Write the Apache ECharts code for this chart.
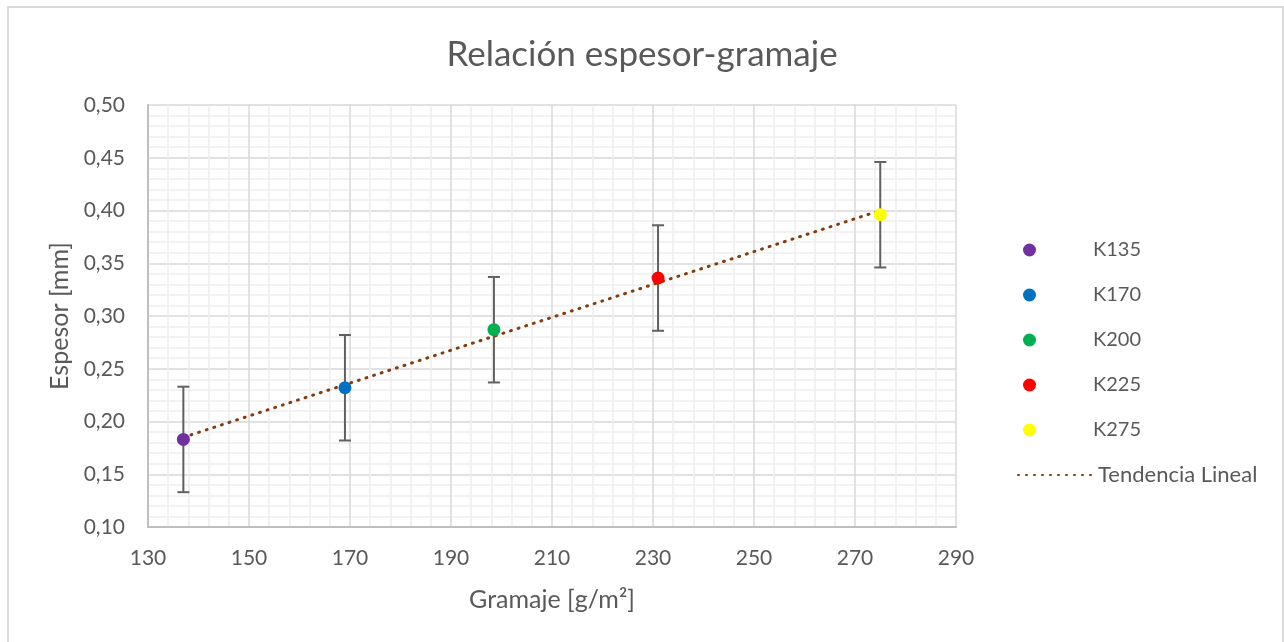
<!DOCTYPE html>
<html>
<head>
<meta charset="utf-8">
<script src="https://cdn.jsdelivr.net/npm/echarts@6/dist/echarts.min.js"></script>
<style>
  html, body { margin: 0; padding: 0; background: #fff; }
  #chart { width: 1284px; height: 642px; }
</style>
</head>
<body>
<div id="chart"></div>
<script>
// datos
const muestras = ['K135', 'K170', 'K200', 'K225', 'K275']
const gramaje = [137, 169, 198.5, 231, 275]
const espesor = [0.183, 0.232, 0.287, 0.336, 0.396]
const errores = [0.05, 0.05, 0.05, 0.05, 0.05]
const colores = ['#7030a0', '#0070c0', '#00b050', '#ff0000', '#ffff00']
const tendenciaX = [137, 275]
const tendenciaY = [0.185, 0.400]

const fuente = 'Lato'
const gris = '#595959'

const chart = echarts.init(document.getElementById('chart'))

const puntos = muestras.map(function (nombre, i) {
  return {
    name: nombre,
    type: 'scatter',
    symbol: 'circle',
    symbolSize: 13,
    z: 5,
    itemStyle: { color: colores[i], opacity: 1 },
    data: [[gramaje[i], espesor[i]]]
  }
})

const barrasError = {
  name: 'error',
  type: 'custom',
  z: 3,
  silent: true,
  data: gramaje.map(function (g, i) {
    return [g, espesor[i] - errores[i], espesor[i] + errores[i]]
  }),
  renderItem: function (params, api) {
    const bajo = api.coord([api.value(0), api.value(1)])
    const alto = api.coord([api.value(0), api.value(2)])
    const w = 6
    const estilo = { stroke: '#606060', lineWidth: 2 }
    return {
      type: 'group',
      children: [
        { type: 'line', shape: { x1: alto[0], y1: alto[1], x2: bajo[0], y2: bajo[1] }, style: estilo },
        { type: 'line', shape: { x1: alto[0] - w, y1: alto[1], x2: alto[0] + w, y2: alto[1] }, style: estilo },
        { type: 'line', shape: { x1: bajo[0] - w, y1: bajo[1], x2: bajo[0] + w, y2: bajo[1] }, style: estilo }
      ]
    }
  }
}

const tendencia = {
  name: 'Tendencia Lineal',
  type: 'line',
  symbol: 'none',
  z: 4,
  silent: true,
  lineStyle: { color: '#843c0c', width: 3, type: [1, 7], cap: 'round' },
  itemStyle: { color: '#843c0c' },
  data: tendenciaX.map(function (x, i) { return [x, tendenciaY[i]] })
}

const formatoComa = function (v) {
  return v.toFixed(2).replace('.', ',')
}

chart.setOption({
  animation: false,
  backgroundColor: '#ffffff',
  textStyle: { fontFamily: fuente },
  title: {
    text: 'Relación espesor-gramaje',
    left: 'center',
    top: 32,
    textStyle: { fontFamily: fuente, fontSize: 35, fontWeight: 'normal', color: gris }
  },
  graphic: [{
    type: 'rect',
    silent: true,
    shape: { x: 8, y: 7, width: 1275, height: 650 },
    style: { fill: null, stroke: '#d9d9d9', lineWidth: 2 }
  }],
  legend: [{
    orient: 'vertical',
    left: 1018,
    top: 235,
    itemWidth: 13,
    itemHeight: 13,
    itemGap: 25,
    icon: 'circle',
    data: muestras,
    textStyle: { fontFamily: fuente, fontSize: 20, color: gris, padding: [0, 0, 0, 52] }
  }, {
    orient: 'vertical',
    left: 1012,
    top: 459,
    itemWidth: 75,
    itemHeight: 14,
    itemStyle: { opacity: 0 },
    data: ['Tendencia Lineal'],
    textStyle: { fontFamily: fuente, fontSize: 22, color: gris }
  }],
  grid: { left: 148, right: 328, top: 105, bottom: 115, containLabel: false },
  xAxis: {
    type: 'value',
    min: 130,
    max: 290,
    interval: 20,
    name: 'Gramaje [g/m²]',
    nameLocation: 'middle',
    nameGap: 60,
    nameTextStyle: { fontFamily: fuente, fontSize: 25, color: gris },
    axisLine: { show: true, onZero: false, lineStyle: { color: '#bfbfbf', width: 2 } },
    axisTick: { show: false },
    axisLabel: { fontFamily: fuente, fontSize: 21, color: gris, margin: 21 },
    splitLine: { show: true, lineStyle: { color: '#d9d9d9', width: 1.5 } },
    minorTick: { show: false, splitNumber: 5 },
    minorSplitLine: { show: true, lineStyle: { color: '#eeeeee', width: 1.5 } }
  },
  yAxis: {
    type: 'value',
    min: 0.10,
    max: 0.50,
    interval: 0.05,
    name: 'Espesor [mm]',
    nameLocation: 'middle',
    nameGap: 74,
    nameTextStyle: { fontFamily: fuente, fontSize: 25, color: gris },
    axisLine: { show: true, onZero: false, lineStyle: { color: '#bfbfbf', width: 2 } },
    axisTick: { show: false },
    axisLabel: { fontFamily: fuente, fontSize: 21, color: gris, margin: 23, formatter: formatoComa },
    splitLine: { show: true, lineStyle: { color: '#d9d9d9', width: 1.5 } },
    minorTick: { show: false, splitNumber: 5 },
    minorSplitLine: { show: true, lineStyle: { color: '#eeeeee', width: 1.5 } }
  },
  series: [barrasError].concat(puntos).concat([tendencia])
})
</script>
</body>
</html>
